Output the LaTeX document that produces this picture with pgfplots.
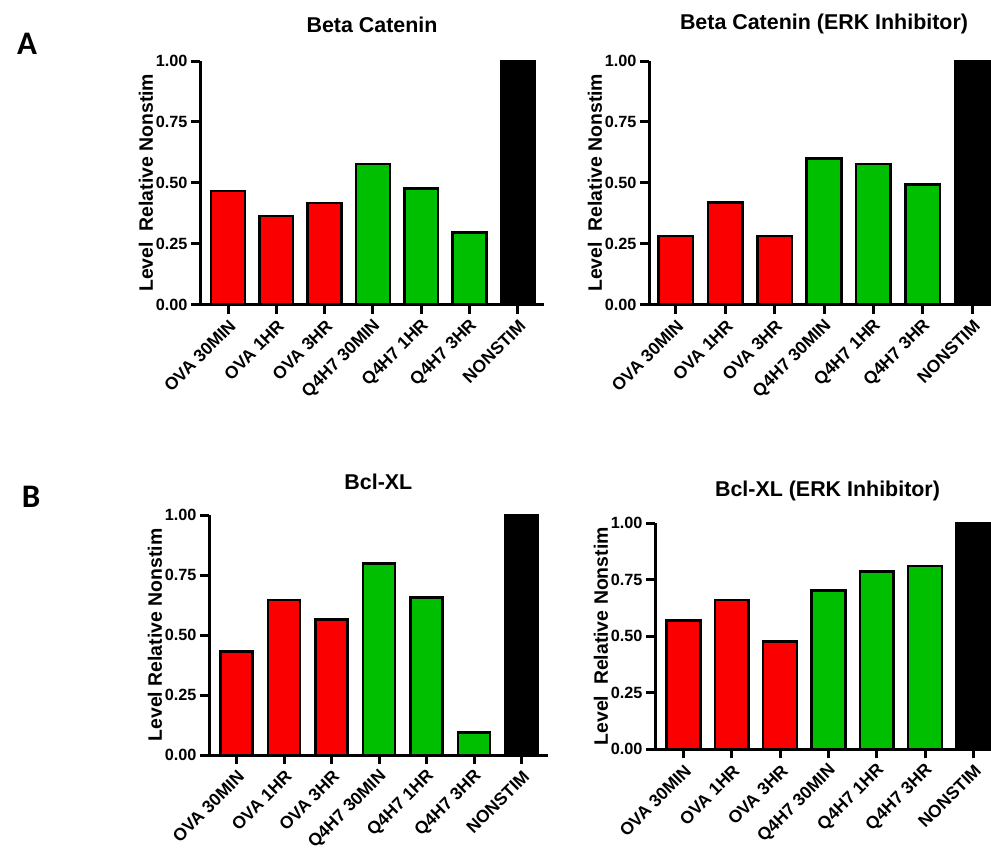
\documentclass[border=0pt]{standalone}
\usepackage{pgfplots}
\pgfplotsset{compat=1.18}
\usepackage{fontspec}
\setmainfont{Liberation Sans}
\newfontfamily\letterfont{Carlito}

\definecolor{barred}{RGB}{250,0,0}
\definecolor{bargreen}{RGB}{0,190,0}

\pgfplotsset{
  panel/.style={
    scale only axis,
    anchor=south west,
    ymin=0, ymax=1,
    clip=false,
    axis lines=left,
    axis line style={-, line width=3bp},
    tick align=outside,
    major tick length=9bp,
    tick style={line width=3bp, black},
    ytick={0,0.25,0.5,0.75,1},
    yticklabels={0.00,0.25,0.50,0.75,1.00},
    xtick={0,1,2,3,4,5,6},
    xticklabels={OVA 30MIN,OVA 1HR,OVA 3HR,Q4H7 30MIN,Q4H7 1HR,Q4H7 3HR,NONSTIM},
    y tick label style={font=\fontsize{16.3}{18}\selectfont\bfseries},
    x tick label style={font=\fontsize{17.5}{19}\selectfont\bfseries,
      rotate=45, anchor=east, yshift=-10bp, xshift=0bp},
    ylabel={Level\ \ Relative Nonstim},
    ylabel style={font=\fontsize{19.5}{22}\selectfont\bfseries},
    ylabel shift=-4bp,
    title style={font=\fontsize{21.5}{24}\selectfont\bfseries, at={(0.5,1)}, anchor=center},
  },
  redbar/.style={ybar, bar shift=0pt, bar width=0.7, fill=barred, draw=black, line width=2.5bp},
  greenbar/.style={ybar, bar shift=0pt, bar width=0.7, fill=bargreen, draw=black, line width=2.5bp},
  blackbar/.style={ybar, bar shift=0pt, bar width=0.7, fill=black, draw=black, line width=2.5bp},
}

\begin{document}
\begin{tikzpicture}
\useasboundingbox (0,0) rectangle (991bp,-851bp);

\node[font=\fontsize{33}{35}\selectfont\letterfont\bfseries] at (27bp,-44bp) {A};
\node[font=\fontsize{33}{35}\selectfont\letterfont\bfseries] at (31bp,-497bp) {B};

% Beta Catenin
\begin{axis}[panel, at={(200bp,-304.5bp)}, width=344bp, height=243.5bp,
  xmin=-0.58, xmax=6.54, title={Beta Catenin}, title style={yshift=30bp}]
  \addplot[redbar] coordinates {(0,0.466) (1,0.364) (2,0.416)};
  \addplot[greenbar] coordinates {(3,0.576) (4,0.476) (5,0.296)};
  \addplot[blackbar] coordinates {(6,1.0)};
\end{axis}

% Beta Catenin (ERK Inhibitor)
\begin{axis}[panel, at={(649bp,-304.5bp)}, width=350bp, height=243.5bp,
  xmin=-0.54, xmax=6.54, title={Beta Catenin (ERK Inhibitor)}, title style={yshift=31bp}]
  \addplot[redbar] coordinates {(0,0.281) (1,0.419) (2,0.281)};
  \addplot[greenbar] coordinates {(3,0.600) (4,0.576) (5,0.493)};
  \addplot[blackbar] coordinates {(6,1.0)};
\end{axis}

% Bcl-XL
\begin{axis}[panel, at={(209bp,-755bp)}, width=338.7bp, height=240bp,
  xmin=-0.58, xmax=6.55, title={Bcl-XL}, title style={yshift=27bp},
  ylabel={Level Relative Nonstim}]
  \addplot[redbar, bar width=0.68] coordinates {(0,0.432) (1,0.646) (2,0.565)};
  \addplot[greenbar, bar width=0.68] coordinates {(3,0.798) (4,0.657) (5,0.094)};
  \addplot[blackbar, bar width=0.68] coordinates {(6,1.0)};
\end{axis}

% Bcl-XL (ERK Inhibitor)
\begin{axis}[panel, at={(655bp,-749.3bp)}, width=345bp, height=226bp,
  xmin=-0.59, xmax=6.55, title={Bcl-XL (ERK Inhibitor)}, title style={yshift=26bp}]
  \addplot[redbar] coordinates {(0,0.570) (1,0.661) (2,0.478)};
  \addplot[greenbar] coordinates {(3,0.702) (4,0.786) (5,0.811)};
  \addplot[blackbar] coordinates {(6,1.0)};
\end{axis}
\end{tikzpicture}
\end{document}
